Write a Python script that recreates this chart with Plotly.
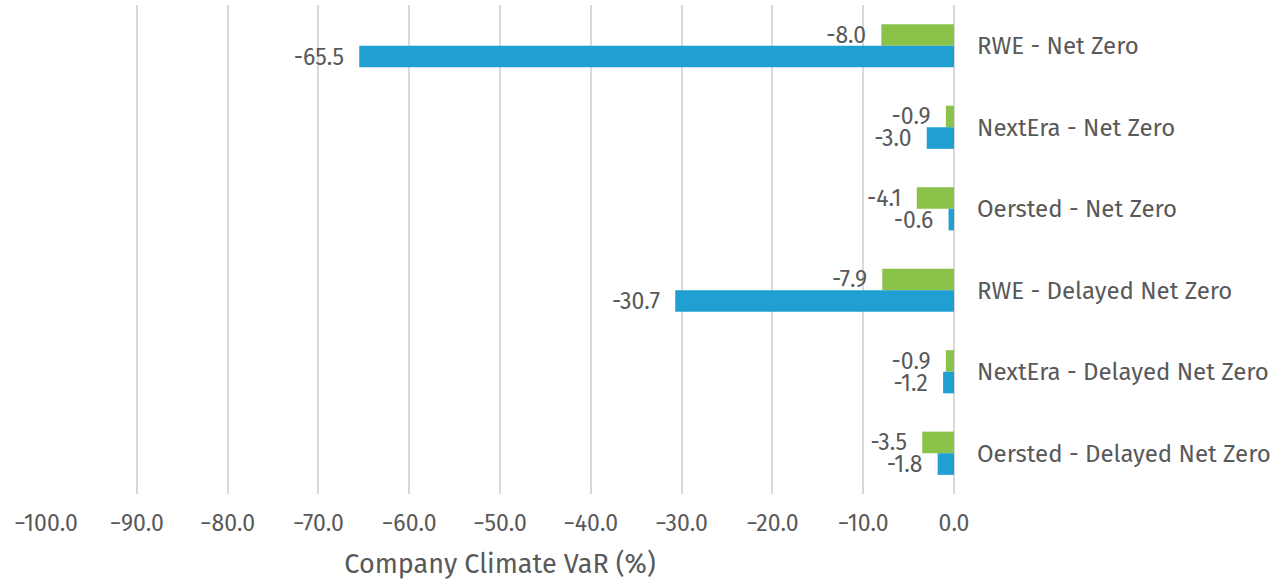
import plotly.graph_objects as go

categories = ["RWE - Net Zero", "NextEra - Net Zero", "Oersted - Net Zero",
              "RWE - Delayed Net Zero", "NextEra - Delayed Net Zero", "Oersted - Delayed Net Zero"]
green_values = [-8.0, -0.9, -4.1, -7.9, -0.9, -3.5]
blue_values = [-65.5, -3.0, -0.6, -30.7, -1.2, -1.8]
tick_values = [-100, -90, -80, -70, -60, -50, -40, -30, -20, -10, 0]

FONT = "Fira Sans, Open Sans, sans-serif"
TXT = "#595959"
PAD = "\u00a0\u00a0"

fig = go.Figure()
for vals, col in [(green_values, "#8BC24A"), (blue_values, "#209FD3")]:
    fig.add_trace(go.Bar(y=categories, x=vals, orientation="h",
                         marker=dict(color=col, line=dict(width=0)),
                         texttemplate="%{x:.1f}" + PAD, textposition="outside",
                         constraintext="none",
                         textfont=dict(size=23, color=TXT, family=FONT),
                         cliponaxis=False, showlegend=False))

fig.update_layout(
    width=1274, height=580,
    margin=dict(l=46, r=320, t=5, b=86, autoexpand=False),
    barmode="group", bargap=0.47, bargroupgap=0,
    plot_bgcolor="white", paper_bgcolor="white",
    font=dict(family=FONT, color=TXT, size=20),
    xaxis=dict(range=[-100, 0], tickvals=tick_values, tickformat=".1f",
               showgrid=True, gridcolor="#d9d9d9", gridwidth=2,
               zeroline=True, zerolinecolor="#d9d9d9", zerolinewidth=2,
               showline=False, ticks="", ticklabelstandoff=13,
               tickfont=dict(size=23, color=TXT), automargin=False,
               title=dict(text="Company Climate VaR (%)", font=dict(size=27, color=TXT), standoff=20)),
    yaxis=dict(side="right", autorange="reversed", showgrid=False, showline=False,
               ticks="", ticklabelstandoff=22, automargin=False,
               tickfont=dict(size=24, color=TXT)),
)

fig.write_html("out.html")
